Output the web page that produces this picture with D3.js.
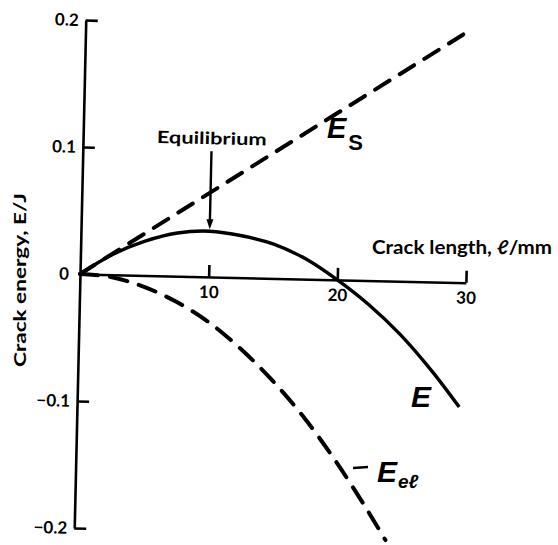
<!DOCTYPE html>
<html>
<head>
<meta charset="utf-8">
<script src="https://cdn.jsdelivr.net/npm/d3@7"></script>
<style>
  body { margin: 0; background: #fff; }
  svg { display: block; }
  text { font-family: Lato, "Open Sans", sans-serif; font-weight: 700; fill: #000; }
</style>
</head>
<body>
<script>
// Griffith crack energy balance: surface energy, elastic energy and their sum
const crackLength   = [0, 2.5, 5, 7.5, 10, 12.5, 15, 17.5, 20, 22.5, 25, 27.5, 29.7];
const totalEnergy   = [0, 0.016, 0.027, 0.034, 0.036, 0.033, 0.027, 0.016, 0, -0.019, -0.042, -0.070, -0.098];
const elasticLength = [0, 2.5, 5, 7.5, 10, 12.5, 15, 17.5, 20, 22.5, 24.2];
const elasticEnergy = [0, -0.002, -0.009, -0.02, -0.035, -0.055, -0.079, -0.107, -0.140, -0.177, -0.204];
const surfaceLength = [0, 29.6];
const surfaceEnergy = [0, 0.197];
const lengthTicks = [10, 20, 30];
const energyTicks = [-0.2, -0.1, 0, 0.1, 0.2];
const equilibriumLength = 10;
const equilibriumEnergy = 0.036;
const equilibriumArrowTop = 0.099;

const width = 558, height = 545;
const svg = d3.select("body").append("svg")
  .attr("width", width).attr("height", height)
  .attr("viewBox", `0 0 ${width} ${height}`);

// plot frame: origin at the crossing of the axes, tilted slightly
const plot = svg.append("g").attr("transform", "translate(80,274) rotate(1.3)");

const x = d3.scaleLinear().domain([0, 30]).range([0, 386]);
const y = d3.scaleLinear().domain([-0.2, 0.2]).range([254, -254]);

// y axis, ticks pointing inward
const yAxis = plot.append("g")
  .call(d3.axisLeft(y).tickValues(energyTicks)
    .tickSizeInner(-12).tickSizeOuter(0).tickPadding(8)
    .tickFormat(d => d === 0 ? "0" : d3.format(".1f")(d)));
yAxis.select(".domain").attr("stroke-width", 2.6);
yAxis.selectAll(".tick line").attr("stroke-width", 2.6)
  .attr("display", d => d === 0 ? "none" : null);
yAxis.selectAll(".tick text")
  .style("font-size", "17px").style("font-family", "Lato, sans-serif").style("font-weight", 700)
  .attr("x", d => d === 0 ? -11 : -7);

// x axis, ticks pointing upward
const xAxis = plot.append("g")
  .call(d3.axisBottom(x).tickValues(lengthTicks)
    .tickSizeInner(-12).tickSizeOuter(0).tickPadding(9));
xAxis.select(".domain").attr("stroke-width", 2.6);
xAxis.selectAll(".tick line").attr("stroke-width", 2.6);
xAxis.selectAll(".tick text")
  .style("font-size", "17px").style("font-family", "Lato, sans-serif").style("font-weight", 700);

const line = d3.line().x(d => x(d[0])).y(d => y(d[1])).curve(d3.curveCatmullRom.alpha(0.5));

// surface energy E_S (dashed straight line)
plot.append("path")
  .datum(d3.zip(surfaceLength, surfaceEnergy))
  .attr("d", d3.line().x(d => x(d[0])).y(d => y(d[1])))
  .attr("fill", "none").attr("stroke", "#000").attr("stroke-width", 4)
  .attr("stroke-linecap", "round").attr("stroke-dasharray", "17,12");

// elastic energy E_el (dashed curve)
plot.append("path")
  .datum(d3.zip(elasticLength, elasticEnergy))
  .attr("d", line)
  .attr("fill", "none").attr("stroke", "#000").attr("stroke-width", 4)
  .attr("stroke-linecap", "round").attr("stroke-dasharray", "18,12");

// total energy E (solid)
plot.append("path")
  .datum(d3.zip(crackLength, totalEnergy))
  .attr("d", line)
  .attr("fill", "none").attr("stroke", "#000").attr("stroke-width", 3.4);

// equilibrium arrow
const ax = x(equilibriumLength);
const tipY = y(equilibriumEnergy) - 2;
plot.append("line")
  .attr("x1", ax).attr("x2", ax)
  .attr("y1", y(equilibriumArrowTop)).attr("y2", tipY - 6)
  .attr("stroke", "#000").attr("stroke-width", 2.4);
plot.append("path")
  .attr("d", `M${ax - 3.5},${tipY - 10} L${ax + 3.5},${tipY - 10} L${ax},${tipY} Z`)
  .attr("fill", "#000");
plot.append("text")
  .attr("x", ax).attr("y", y(equilibriumArrowTop) - 7)
  .attr("text-anchor", "middle")
  .attr("textLength", 110).attr("lengthAdjust", "spacingAndGlyphs")
  .style("font-size", "17px")
  .text("Equilibrium");

// axis titles
svg.append("text")
  .attr("x", 372).attr("y", 254)
  .attr("textLength", 180).attr("lengthAdjust", "spacingAndGlyphs")
  .style("font-size", "19px")
  .text("Crack length, ℓ/mm");

svg.append("text")
  .attr("transform", "translate(26,280) rotate(-90)")
  .attr("text-anchor", "middle")
  .attr("textLength", 174).attr("lengthAdjust", "spacingAndGlyphs")
  .style("font-size", "17px")
  .text("Crack energy, E/J");

// curve labels
const es = svg.append("text").attr("x", 327).attr("y", 138)
  .style("font-family", "'Liberation Sans', Arial, sans-serif");
es.append("tspan").style("font-size", "29px").style("font-style", "italic").text("E");
es.append("tspan").attr("dx", 2).attr("dy", 12).style("font-size", "22px").text("S");

svg.append("text").attr("x", 411).attr("y", 407)
  .style("font-family", "'Liberation Sans', Arial, sans-serif")
  .style("font-size", "30px").style("font-style", "italic")
  .text("E");

svg.append("line")
  .attr("x1", 353).attr("x2", 368).attr("y1", 468).attr("y2", 467)
  .attr("stroke", "#000").attr("stroke-width", 2.6);
const eel = svg.append("text").attr("x", 377).attr("y", 482)
  .style("font-family", "'Liberation Sans', Arial, sans-serif");
eel.append("tspan").style("font-size", "30px").style("font-style", "italic").text("E");
eel.append("tspan").attr("dx", 1).attr("dy", 6).style("font-size", "19px").style("font-style", "italic").text("eℓ");
</script>
</body>
</html>
